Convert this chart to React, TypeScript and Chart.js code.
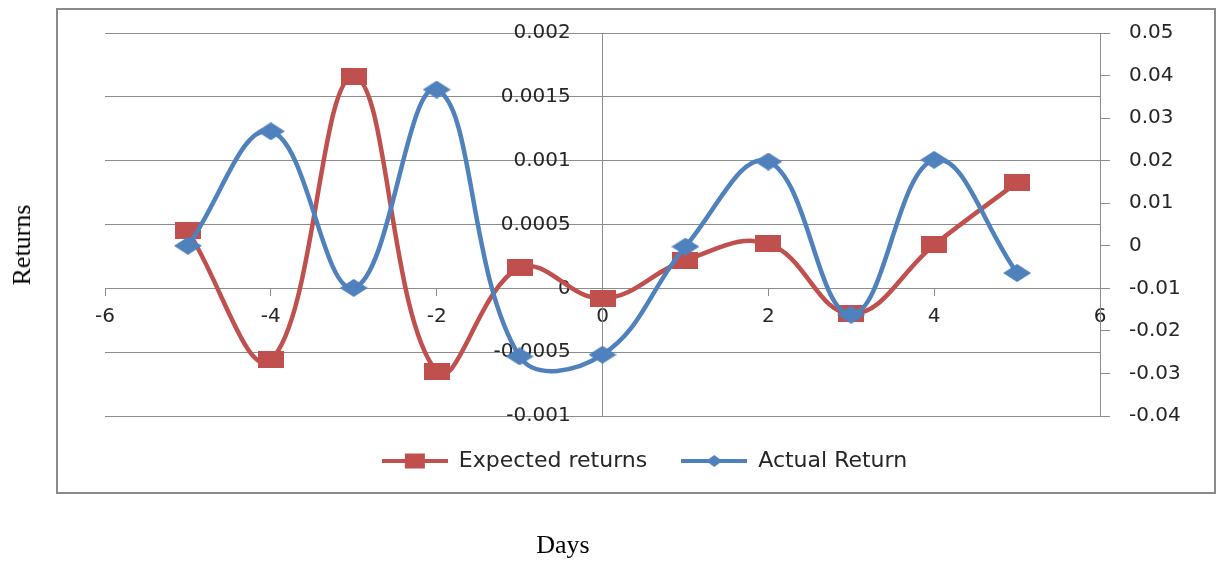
import React, { useEffect, useRef } from 'react';
import { Chart, registerables } from 'chart.js';

Chart.register(...registerables);

// ---- data ----
const days = [-5, -4, -3, -2, -1, 0, 1, 2, 3, 4, 5];
const expectedReturns = [0.00045, -0.00056, 0.00166, -0.00065, 0.00016, -0.00008, 0.00022, 0.00035, -0.0002, 0.00034, 0.00083];
const actualReturn = [0.0, 0.0269, -0.0099, 0.0367, -0.026, -0.0256, -0.0002, 0.0198, -0.0162, 0.0202, -0.0064];
const xTicks = [-6, -4, -2, 0, 2, 4, 6];
const leftTicks = [-0.001, -0.0005, 0, 0.0005, 0.001, 0.0015, 0.002];
const rightTicks = [-0.04, -0.03, -0.02, -0.01, 0, 0.01, 0.02, 0.03, 0.04, 0.05];
const seriesNames = ['Expected returns', 'Actual Return'];

const RED = '#C0504D';
const BLUE = '#4F81BD';
const GRID = '#8c8c8c';
const TEXT = '#262626';
const TICK_FONT = { family: "'DejaVu Sans', Verdana, sans-serif", size: 20 };
const LEGEND_FONT = { family: "'DejaVu Sans', Verdana, sans-serif", size: 22 };
const LEFT_LABEL_GAP = '     ';

function rectImg(w: number, h: number, color: string) {
  const c = document.createElement('canvas');
  c.width = w; c.height = h;
  const g = c.getContext('2d')!;
  g.fillStyle = color;
  g.fillRect(0, 0, w, h);
  return c;
}
function diamondImg(w: number, h: number, color: string) {
  const c = document.createElement('canvas');
  c.width = w; c.height = h;
  const g = c.getContext('2d')!;
  g.fillStyle = color;
  g.beginPath();
  g.moveTo(w / 2, 0); g.lineTo(w, h / 2); g.lineTo(w / 2, h); g.lineTo(0, h / 2);
  g.closePath(); g.fill();
  return c;
}
function legendIcon(color: string, marker: 'rect' | 'diamond') {
  const w = 66, h = 18;
  const c = document.createElement('canvas');
  c.width = w; c.height = h;
  const g = c.getContext('2d')!;
  g.strokeStyle = color; g.lineWidth = 4;
  g.beginPath(); g.moveTo(0, h / 2); g.lineTo(w, h / 2); g.stroke();
  g.fillStyle = color;
  if (marker === 'rect') {
    g.fillRect(w / 2 - 10, h / 2 - 7.5, 20, 15);
  } else {
    g.beginPath();
    g.moveTo(w / 2, h / 2 - 6); g.lineTo(w / 2 + 8, h / 2); g.lineTo(w / 2, h / 2 + 6); g.lineTo(w / 2 - 8, h / 2);
    g.closePath(); g.fill();
  }
  return c;
}

export default function App() {
  const ref = useRef<HTMLCanvasElement>(null);

  useEffect(() => {
    const redMarker = rectImg(26, 17, RED);
    const blueMarker = diamondImg(28, 18, BLUE);
    const icons = [legendIcon(RED, 'rect'), legendIcon(BLUE, 'diamond')];

    const chart = new Chart(ref.current!, {
      type: 'line',
      data: {
        datasets: [
          {
            label: seriesNames[0],
            data: days.map((d, i) => ({ x: d, y: expectedReturns[i] })),
            yAxisID: 'y',
            borderColor: RED,
            backgroundColor: RED,
            borderWidth: 4.5,
            tension: 0.4,
            fill: false,
            pointStyle: redMarker as any,
            pointRadius: 8,
            order: 2,
          },
          {
            label: seriesNames[1],
            data: days.map((d, i) => ({ x: d, y: actualReturn[i] })),
            yAxisID: 'y1',
            borderColor: BLUE,
            backgroundColor: BLUE,
            borderWidth: 4.5,
            tension: 0.4,
            fill: false,
            pointStyle: blueMarker as any,
            pointRadius: 8,
            order: 1,
          },
        ],
      },
      options: {
        responsive: false,
        animation: false,
        devicePixelRatio: 1,
        layout: { padding: { left: 105, top: 23, right: 33, bottom: 80 } },
        plugins: {
          tooltip: { enabled: false },
          legend: {
            position: 'bottom',
            labels: {
              usePointStyle: true,
              pointStyleWidth: 66,
              padding: 34,
              color: TEXT,
              font: LEGEND_FONT,
              sort: (a: any, b: any) => a.datasetIndex - b.datasetIndex,
              generateLabels: (c: any) =>
                (Chart.defaults.plugins.legend.labels.generateLabels as any)(c).map((l: any) => ({
                  ...l,
                  pointStyle: icons[l.datasetIndex],
                })),
            },
          },
        },
        scales: {
          x: {
            type: 'linear',
            min: xTicks[0],
            max: xTicks[xTicks.length - 1],
            position: { y: 0 } as any,
            afterBuildTicks: (s: any) => { s.ticks = xTicks.map((v) => ({ value: v })); },
            grid: { drawOnChartArea: false, drawTicks: true, tickLength: 7, color: GRID },
            border: { display: true, color: GRID, width: 1 },
            ticks: { padding: 9, color: TEXT, font: TICK_FONT, maxRotation: 0, autoSkip: false, callback: (v: any) => String(v) },
          },
          y: {
            type: 'linear',
            min: leftTicks[0],
            max: leftTicks[leftTicks.length - 1],
            position: { x: 0 } as any,
            afterBuildTicks: (s: any) => { s.ticks = leftTicks.map((v) => ({ value: v })); },
            grid: { color: GRID, drawTicks: false },
            border: { display: true, color: GRID, width: 1 },
            ticks: { padding: 31, color: TEXT, font: TICK_FONT, autoSkip: false, callback: (v: any) => String(v) + LEFT_LABEL_GAP },
          },
          y1: {
            type: 'linear',
            position: 'right',
            min: rightTicks[0],
            max: rightTicks[rightTicks.length - 1],
            afterBuildTicks: (s: any) => { s.ticks = rightTicks.map((v) => ({ value: v })); },
            afterFit: (s: any) => { s.width = 84; },
            grid: { drawOnChartArea: false, drawTicks: true, tickLength: 10, color: GRID },
            border: { display: true, color: GRID, width: 1 },
            ticks: { padding: 19, color: TEXT, font: TICK_FONT, autoSkip: false, callback: (v: any) => String(v) },
          },
        },
      },
    });
    return () => chart.destroy();
  }, []);

  return (
    <div style={{ position: 'absolute', left: 0, top: 0, width: 1217, height: 562, background: '#fff', overflow: 'hidden' }}>
      <div style={{ position: 'absolute', left: 56, top: 8, width: 1160, height: 486, border: '2px solid #8a8a8a', boxSizing: 'border-box' }} />
      <canvas ref={ref} width={1217} height={572} style={{ position: 'absolute', left: 0, top: -10, width: 1217, height: 572 }} />
      <div style={{ position: 'absolute', left: 22, top: 245, transform: 'translate(-50%, -50%) rotate(-90deg)', font: "26px 'Liberation Serif', 'Times New Roman', serif", color: '#000', whiteSpace: 'nowrap' }}>Returns</div>
      <div style={{ position: 'absolute', left: 563, top: 545, transform: 'translate(-50%, -50%)', font: "26px 'Liberation Serif', 'Times New Roman', serif", color: '#000', whiteSpace: 'nowrap' }}>Days</div>
    </div>
  );
}
